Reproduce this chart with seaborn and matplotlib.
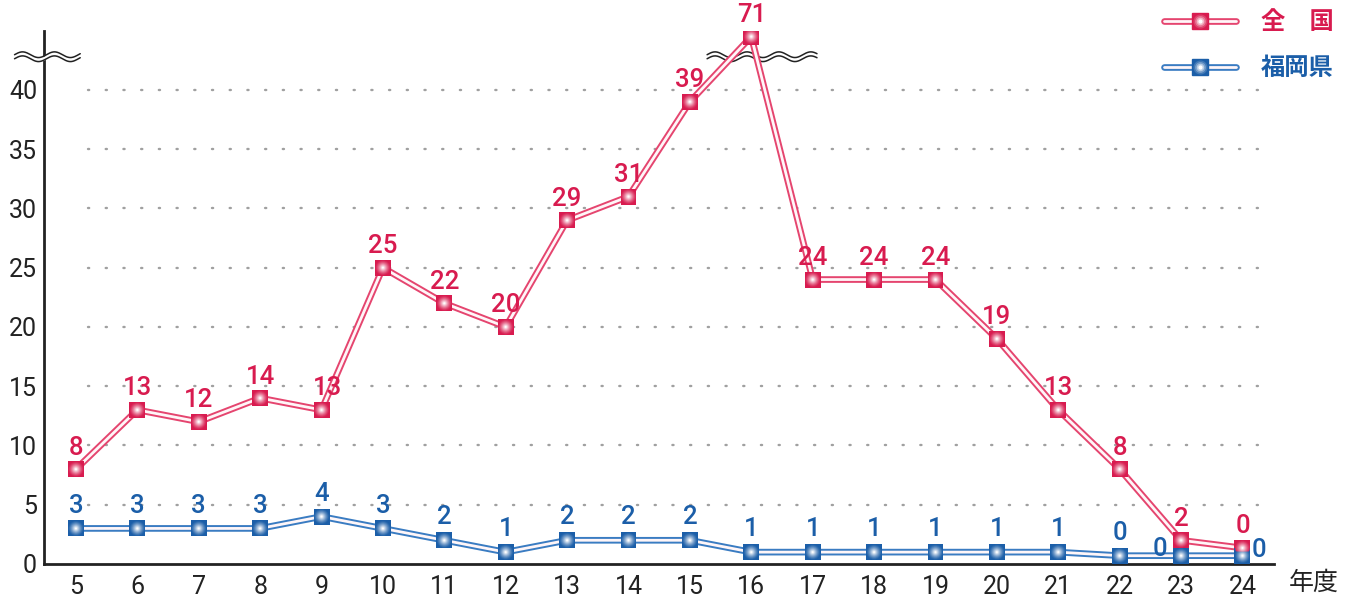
import numpy as np
import pandas as pd
import matplotlib.pyplot as plt
import seaborn as sns
from matplotlib.lines import Line2D
from matplotlib.legend_handler import HandlerTuple
from matplotlib.colors import to_rgb

#% data
years = [str(y) for y in range(5, 25)]
national = [8, 13, 12, 14, 13, 25, 22, 20, 29, 31, 39, 71, 24, 24, 24, 19, 13, 8, 2, 0]
fukuoka = [3, 3, 3, 3, 4, 3, 2, 1, 2, 2, 2, 1, 1, 1, 1, 1, 1, 0, 0, 0]
y_ticks = [0, 5, 10, 15, 20, 25, 30, 35, 40]
series_names = ["全　国", "福岡県"]

# drawn heights: 71 sits above the axis break, zeros sit just off the baseline
BREAK_AT = 44.5
NATIONAL_ZERO = 1.35
FUKUOKA_ZERO = 0.7

RED = "#d81b4f"
RED_LINE = "#e5456f"
BLUE = "#1b5ea8"
BLUE_LINE = "#3a7cc2"

nat = np.array(national, dtype=float)
nat_plot = np.where(nat > 40, BREAK_AT, np.where(nat == 0, NATIONAL_ZERO, nat))
fuk = np.array(fukuoka, dtype=float)
fuk_plot = np.where(fuk == 0, FUKUOKA_ZERO, fuk)

pos = np.arange(len(years))
df = pd.DataFrame({
    "pos": np.concatenate([pos, pos]),
    "val": np.concatenate([nat_plot, fuk_plot]),
    "series": [series_names[0]] * len(pos) + [series_names[1]] * len(pos),
})

sns.set_style("white")
plt.rcParams["font.family"] = ["Roboto", "Noto Sans CJK JP"]

fig = plt.figure(figsize=(13.5, 6.01), dpi=100)
ax = fig.add_axes([0.0326, 0.0616, 0.9114, 0.8874])

pal_outer = {series_names[0]: RED_LINE, series_names[1]: BLUE_LINE}
# double line: thick coloured stroke with a white core
sns.lineplot(data=df, x="pos", y="val", hue="series", palette=pal_outer,
             lw=4.8, legend=False, ax=ax, zorder=4, sort=False)
sns.lineplot(data=df, x="pos", y="val", hue="series",
             palette={k: "#fff6f8" for k in series_names},
             lw=2.0, legend=False, ax=ax, zorder=5, sort=False)


def glow(base, n=9):
    # colours going from the marker colour to white, for a soft centre
    b = np.array(to_rgb(base))
    return [tuple(b + (1 - b) * t) for t in np.linspace(0, 1, n) ** 1.3]


MS = 11.5
for sub, base in [(df[df.series == series_names[0]], RED),
                  (df[df.series == series_names[1]], BLUE)]:
    sns.scatterplot(x=sub["pos"], y=sub["val"], marker="s", s=MS ** 2,
                    color=base, edgecolor="none", linewidth=0, ax=ax,
                    zorder=6, legend=False)
    cols = glow(base)
    sizes = np.linspace(MS * 1.05, 1.5, len(cols))
    for k, (c, ms) in enumerate(zip(cols[1:], sizes[1:])):
        sns.scatterplot(x=sub["pos"], y=sub["val"], marker="o", s=ms ** 2,
                        color=c, edgecolor="none", linewidth=0, ax=ax,
                        zorder=6.1 + k * 0.01, legend=False, alpha=0.9)

# value labels
fuk_offsets = {18: (-15, 5), 19: (12, 4)}
for i in pos:
    dx = 4 if i == 4 else 0
    ax.annotate(str(national[i]), (i, nat_plot[i]), xytext=(dx, 15.5),
                textcoords="offset points", ha="center", va="center",
                color=RED, fontsize=18.5, fontweight="medium", zorder=12)
    ox, oy = fuk_offsets.get(i, (0, 16.5))
    ax.annotate(str(fukuoka[i]), (i, fuk_plot[i]), xytext=(ox, oy),
                textcoords="offset points", ha="center", va="center",
                color=BLUE, fontsize=18.5, fontweight="medium", zorder=12)

# axes
ax.set_xlim(-0.52, len(years) - 0.48)
ax.set_ylim(0, 45)
ax.set_xticks(pos)
ax.set_xticklabels(years)
ax.set_xticks(np.arange(-0.5, len(years)), minor=True)
ax.set_yticks(y_ticks)
ax.tick_params(axis="x", which="major", length=0, labelsize=18, pad=8, colors="#222222")
ax.tick_params(axis="x", which="minor", direction="in", length=9, width=2, color="#222222")
ax.tick_params(axis="y", direction="in", length=10, width=2, labelsize=18,
               pad=5, colors="#222222")
ax.set_xlabel("")
ax.set_ylabel("")
for s in ["top", "right"]:
    ax.spines[s].set_visible(False)
for s in ["left", "bottom"]:
    ax.spines[s].set_linewidth(2)
    ax.spines[s].set_color("#222222")
ax.spines["bottom"].set_zorder(3)

for yt in y_ticks[1:]:
    ax.plot([0.2, len(years) - 0.7], [yt, yt], ls=(0, (0.5, 7)), lw=1.7,
            color="#a0a0a0", zorder=1, dash_capstyle="round")

fig.text(0.992, 0.030, "年度", ha="right", va="center", fontsize=18, color="#222222")


# axis break marks
def wave(x0, x1, yc, zo):
    xs = np.linspace(x0, x1, 200)
    ph = 2 * np.pi * (xs - x0) / 0.52
    y_top = yc + 0.17 + 0.24 * np.sin(ph)
    y_bot = yc - 0.17 + 0.24 * np.sin(ph)
    ax.fill_between(xs, y_bot, y_top, color="white", zorder=zo, clip_on=False, lw=0)
    ax.plot(xs, y_top, color="#222222", lw=1.1, zorder=zo + 0.1, clip_on=False)
    ax.plot(xs, y_bot, color="#222222", lw=1.1, zorder=zo + 0.1, clip_on=False)


wave(-1.0, 0.07, 42.8, 10)
wave(10.28, 12.07, 42.8, 3)


# legend
def handle(line_col, base):
    cols = glow(base, 5)
    parts = [Line2D([], [], color=line_col, lw=4.8),
             Line2D([], [], color="#fff6f8", lw=2.0),
             Line2D([], [], ls="none", marker="s", ms=MS, color=base)]
    for c, ms in zip(cols[1:], np.linspace(MS, 2, 5)[1:]):
        parts.append(Line2D([], [], ls="none", marker="o", ms=ms, color=c))
    return tuple(parts)


leg = fig.legend([handle(RED_LINE, RED), handle(BLUE_LINE, BLUE)], series_names,
                 handler_map={tuple: HandlerTuple(ndivide=1)},
                 loc="upper right", bbox_to_anchor=(1.004, 1.018), frameon=False,
                 handlelength=3.0, handletextpad=1.0, labelspacing=0.95,
                 prop={"size": 17.5, "weight": "bold"})
for t, c in zip(leg.get_texts(), [RED, BLUE]):
    t.set_color(c)

fig.savefig("out.png", dpi=100)
